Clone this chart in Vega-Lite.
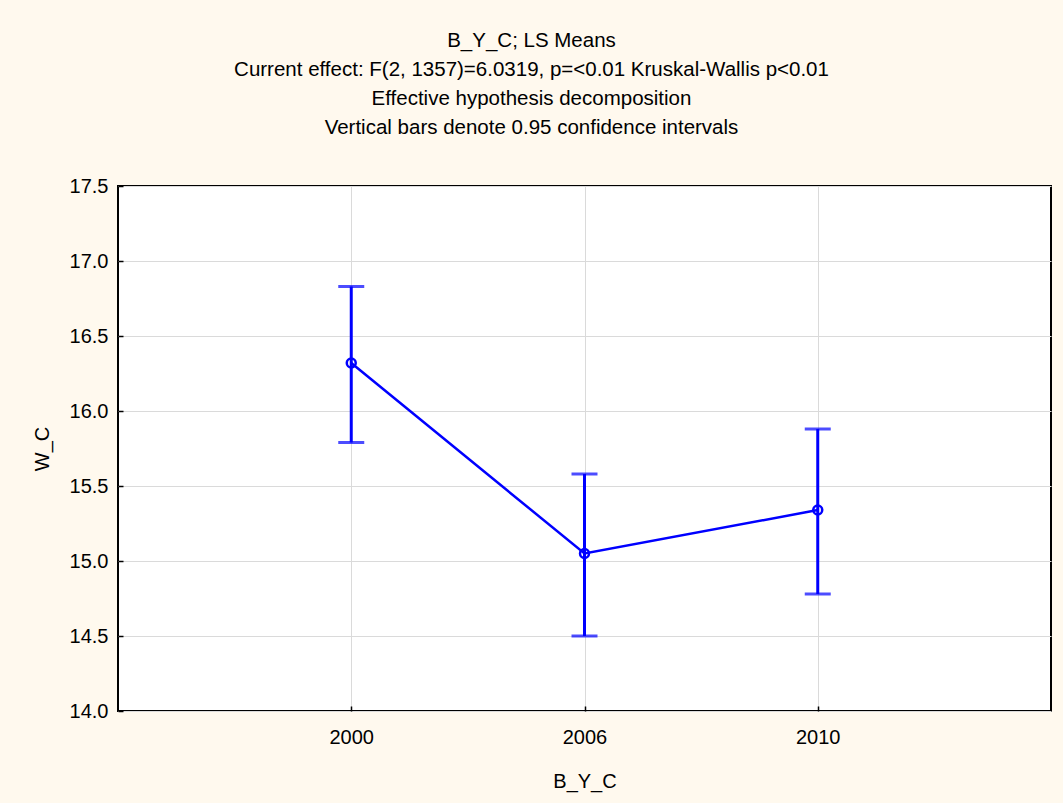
{
  "$schema": "https://vega.github.io/schema/vega-lite/v6.json",
  "width": 933,
  "height": 525,
  "autosize": {"type": "none"},
  "padding": {"left": 118, "top": 186, "right": 12, "bottom": 92},
  "background": "#FFF9EE",
  "title": {
    "text": [
      "B_Y_C; LS Means",
      "Current effect: F(2, 1357)=6.0319, p=<0.01 Kruskal-Wallis p<0.01",
      "Effective hypothesis decomposition",
      "Vertical bars denote 0.95 confidence intervals"
    ],
    "font": "Liberation Sans",
    "fontSize": 20.5,
    "fontWeight": "normal",
    "color": "black",
    "lineHeight": 29,
    "anchor": "middle",
    "dx": -53,
    "offset": 38
  },
  "config": {
    "view": {"fill": "white", "stroke": "black", "strokeWidth": 2},
    "axis": {
      "labelFont": "Liberation Sans",
      "titleFont": "Liberation Sans",
      "labelFontSize": 20,
      "titleFontSize": 20,
      "titleFontWeight": "normal",
      "labelColor": "black",
      "titleColor": "black",
      "domain": false,
      "tickColor": "black",
      "tickWidth": 1.5,
      "tickSize": -5,
      "gridColor": "#DADADA",
      "gridWidth": 1
    }
  },
  "data": {
    "values": [
      {"B_Y_C": "2000", "W_C": 16.32, "lower": 15.79, "upper": 16.83},
      {"B_Y_C": "2006", "W_C": 15.05, "lower": 14.5, "upper": 15.58},
      {"B_Y_C": "2010", "W_C": 15.34, "lower": 14.78, "upper": 15.88}
    ]
  },
  "encoding": {
    "x": {
      "field": "B_Y_C",
      "type": "ordinal",
      "scale": {"type": "point", "padding": 1},
      "axis": {"title": "B_Y_C", "labelAngle": 0, "labelPadding": 21, "titlePadding": 24, "grid": true}
    }
  },
  "layer": [
    {
      "mark": {"type": "rule", "color": "#0000FF", "strokeWidth": 3},
      "encoding": {
        "y": {
          "field": "lower",
          "type": "quantitative",
          "scale": {"domain": [14, 17.5], "nice": false, "zero": false},
          "axis": {
            "title": "W_C",
            "values": [14, 14.5, 15, 15.5, 16, 16.5, 17, 17.5],
            "format": ".1f",
            "labelPadding": 15,
            "titlePadding": 17,
            "grid": true
          }
        },
        "y2": {"field": "upper"}
      }
    },
    {
      "mark": {"type": "tick", "color": "#0000FF", "size": 26, "thickness": 3},
      "encoding": {"y": {"field": "lower", "type": "quantitative"}}
    },
    {
      "mark": {"type": "tick", "color": "#0000FF", "size": 26, "thickness": 3},
      "encoding": {"y": {"field": "upper", "type": "quantitative"}}
    },
    {
      "mark": {"type": "line", "color": "#0000FF", "strokeWidth": 2.5},
      "encoding": {"y": {"field": "W_C", "type": "quantitative"}}
    },
    {
      "mark": {"type": "point", "shape": "circle", "filled": false, "color": "#0000FF", "size": 80, "strokeWidth": 2.5, "opacity": 1},
      "encoding": {"y": {"field": "W_C", "type": "quantitative"}}
    }
  ]
}
